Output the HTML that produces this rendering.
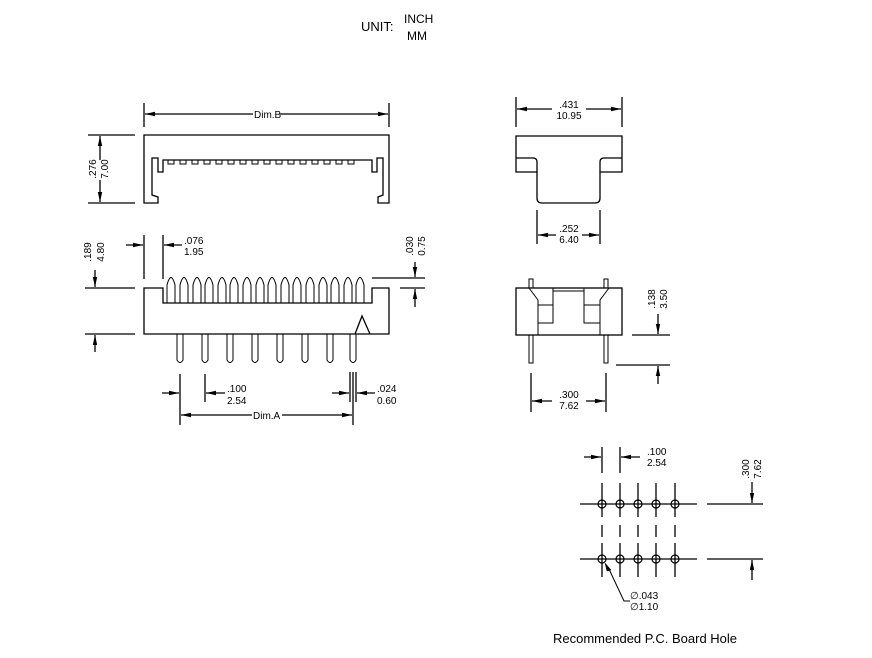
<!DOCTYPE html>
<html><head><meta charset="utf-8"><style>
html,body{margin:0;padding:0;background:#fff}
svg{display:block}
text{font-family:"Liberation Sans",Arial,sans-serif;font-size:10px;fill:#000}
</style></head><body>
<svg width="872" height="658" viewBox="0 0 872 658" xmlns="http://www.w3.org/2000/svg">
<defs>
<marker id="a" viewBox="0 0 10 6" refX="10" refY="3" markerWidth="10" markerHeight="6" markerUnits="userSpaceOnUse" orient="auto"><path d="M0,0.8 L10,3 L0,5.2 z" fill="#000"/></marker>
</defs>
<g stroke="#000" stroke-width="1.3" fill="none">
<line x1="144" y1="103" x2="144" y2="127"/><line x1="389" y1="103" x2="389" y2="127"/>
<line x1="253" y1="114" x2="145" y2="114" marker-end="url(#a)"/><line x1="280" y1="114" x2="388" y2="114" marker-end="url(#a)"/>
<path d="M144,135 H389 V203 H378 V197 L383,195 V158 H377 V172 H372 V160 H163 V172 H158 V158 H152 V195 L158,197 V203 H144 Z"/>
<path d="M165,160 h3 v4 h6 v-4 h6 v4 h6 v-4 h6 v4 h6 v-4 h6 v4 h6 v-4 h6 v4 h6 v-4 h6 v4 h6 v-4 h6 v4 h6 v-4 h6 v4 h6 v-4 h6 v4 h6 v-4 h6 v4 h6 v-4 h6 v4 h6 v-4 h6 v4 h6 v-4 h6 v4 h6 v-4 h6 v4 h6 v-4 h6 v4 h6 v-4 h6 v4 h6 v-4 h5" stroke-width="1"/>
<line x1="88" y1="135" x2="135" y2="135"/><line x1="88" y1="203" x2="135" y2="203"/>
<line x1="100" y1="160" x2="100" y2="136" marker-end="url(#a)"/><line x1="100" y1="180" x2="100" y2="202" marker-end="url(#a)"/>
<path d="M144,288 H163 V303 H372 V288 H389 V334 H144 Z"/>
<path d="M355,334 L362,316 L370,334"/>
<g stroke-width="1">
<path d="M167,303 V285 Q171,270 175,285 V303 M180,303 V285 Q184,270 188,285 V303 M193,303 V285 Q197,270 201,285 V303 M205,303 V285 Q209,270 213,285 V303 M218,303 V285 Q222,270 226,285 V303 M230,303 V285 Q234,270 238,285 V303 M243,303 V285 Q247,270 251,285 V303 M256,303 V285 Q260,270 264,285 V303 M268,303 V285 Q272,270 276,285 V303 M281,303 V285 Q285,270 289,285 V303 M293,303 V285 Q297,270 301,285 V303 M306,303 V285 Q310,270 314,285 V303 M319,303 V285 Q323,270 327,285 V303 M331,303 V285 Q335,270 339,285 V303 M344,303 V285 Q348,270 352,285 V303 M356,303 V285 Q360,270 364,285 V303"/>
<path d="M177,334 V360 Q180,365 183,360 V334 M202,334 V360 Q205,365 208,360 V334 M227,334 V360 Q230,365 233,360 V334 M252,334 V360 Q255,365 258,360 V334 M277,334 V360 Q280,365 283,360 V334 M302,334 V360 Q305,365 308,360 V334 M327,334 V360 Q330,365 333,360 V334 M350,334 V360 Q353,365 356,360 V334"/>
</g>
<line x1="144" y1="235" x2="144" y2="279"/><line x1="163" y1="235" x2="163" y2="279"/>
<line x1="126" y1="245" x2="143" y2="245" marker-end="url(#a)"/><line x1="182" y1="245" x2="164" y2="245" marker-end="url(#a)"/>
<line x1="85" y1="288" x2="135" y2="288"/><line x1="85" y1="334" x2="135" y2="334"/>
<line x1="95" y1="270" x2="95" y2="287" marker-end="url(#a)"/><line x1="95" y1="352" x2="95" y2="335" marker-end="url(#a)"/>
<line x1="372" y1="278" x2="425" y2="278"/><line x1="400" y1="288" x2="425" y2="288"/>
<line x1="415" y1="262" x2="415" y2="277" marker-end="url(#a)"/><line x1="415" y1="307" x2="415" y2="289" marker-end="url(#a)"/>
<line x1="180" y1="374" x2="180" y2="425"/><line x1="205" y1="374" x2="205" y2="402"/>
<line x1="350" y1="372" x2="350" y2="402"/><line x1="353" y1="372" x2="353" y2="425"/><line x1="356" y1="372" x2="356" y2="402"/>
<line x1="162" y1="393" x2="179" y2="393" marker-end="url(#a)"/><line x1="225" y1="393" x2="206" y2="393" marker-end="url(#a)"/>
<line x1="332" y1="393" x2="349" y2="393" marker-end="url(#a)"/><line x1="375" y1="393" x2="357" y2="393" marker-end="url(#a)"/>
<line x1="252" y1="415" x2="181" y2="415" marker-end="url(#a)"/><line x1="282" y1="415" x2="352" y2="415" marker-end="url(#a)"/>
<line x1="516" y1="97" x2="516" y2="127"/><line x1="622" y1="97" x2="622" y2="127"/>
<line x1="552" y1="109" x2="517" y2="109" marker-end="url(#a)"/><line x1="586" y1="109" x2="621" y2="109" marker-end="url(#a)"/>
<path d="M516,136 H622 V172 H600 V198 Q600,203 595,203 H542 Q537,203 537,198 V172 H516 Z"/>
<path d="M516,158 H533 Q537,158 537,162 V172 M622,158 H604 Q600,158 600,162 V172"/>
<line x1="537" y1="210" x2="537" y2="244"/><line x1="600" y1="210" x2="600" y2="244"/>
<line x1="556" y1="235" x2="538" y2="235" marker-end="url(#a)"/><line x1="582" y1="235" x2="599" y2="235" marker-end="url(#a)"/>
<rect x="516" y="288" width="106" height="47"/>
<path d="M529,288 L538,300 V335 M609,288 L600,300 V335" stroke-width="1"/>
<path d="M553,288 V305 H538 M553,305 V323 H538 M584,288 V305 H600 M584,305 V323 H600 M553,291 H584" stroke-width="1"/>
<path d="M529,288 V279 H533 V288 M604,288 V279 H608 V288 M529,335 V363 H533 V335 M604,335 V363 H608 V335" stroke-width="1"/>
<line x1="632" y1="335" x2="670" y2="335"/><line x1="616" y1="365" x2="670" y2="365"/>
<line x1="658" y1="314" x2="658" y2="334" marker-end="url(#a)"/><line x1="658" y1="384" x2="658" y2="366" marker-end="url(#a)"/>
<line x1="531" y1="373" x2="531" y2="412"/><line x1="606" y1="373" x2="606" y2="412"/>
<line x1="552" y1="401" x2="532" y2="401" marker-end="url(#a)"/><line x1="586" y1="401" x2="605" y2="401" marker-end="url(#a)"/>
<line x1="602" y1="447" x2="602" y2="473"/><line x1="620" y1="447" x2="620" y2="473"/>
<line x1="584" y1="457" x2="601" y2="457" marker-end="url(#a)"/><line x1="640" y1="457" x2="621" y2="457" marker-end="url(#a)"/>
<line x1="580" y1="504" x2="697" y2="504"/><line x1="707" y1="504" x2="763" y2="504"/>
<line x1="580" y1="559" x2="697" y2="559"/><line x1="707" y1="559" x2="763" y2="559"/>
<path d="M602,483 V517 M602,525 V537 M602,543 V577 M620,483 V517 M620,525 V537 M620,543 V577 M638,483 V517 M638,525 V537 M638,543 V577 M656,483 V517 M656,525 V537 M656,543 V577 M675,483 V517 M675,525 V537 M675,543 V577"/>
<g stroke-width="1.2"><circle cx="602" cy="504" r="4"/><circle cx="620" cy="504" r="4"/><circle cx="638" cy="504" r="4"/><circle cx="656" cy="504" r="4"/><circle cx="675" cy="504" r="4"/>
<circle cx="602" cy="559" r="4"/><circle cx="620" cy="559" r="4"/><circle cx="638" cy="559" r="4"/><circle cx="656" cy="559" r="4"/><circle cx="675" cy="559" r="4"/></g>
<line x1="752" y1="482" x2="752" y2="503" marker-end="url(#a)"/><line x1="752" y1="580" x2="752" y2="560" marker-end="url(#a)"/>
<path d="M630,601 H624 L608,567" stroke-width="1"/><path d="M605,563 L611,570 L607,571 z" fill="#000" stroke-width="0.5"/>
</g>
<text x="361" y="31" style="font-size:13px">UNIT:</text>
<text x="404" y="23" style="font-size:12px">INCH</text>
<text x="407" y="40" style="font-size:12px">MM</text>
<text x="254" y="118">Dim.B</text>
<text x="253" y="419">Dim.A</text>
<text transform="translate(96,169) rotate(-90)" text-anchor="middle">.276</text>
<text transform="translate(108,169) rotate(-90)" text-anchor="middle">7.00</text>
<text transform="translate(91,252) rotate(-90)" text-anchor="middle">.189</text>
<text transform="translate(104,252) rotate(-90)" text-anchor="middle">4.80</text>
<text transform="translate(413,246) rotate(-90)" text-anchor="middle">.030</text>
<text transform="translate(425,246) rotate(-90)" text-anchor="middle">0.75</text>
<text x="184" y="244">.076</text><text x="184" y="255">1.95</text>
<text x="227" y="392">.100</text><text x="227" y="404">2.54</text>
<text x="377" y="392">.024</text><text x="377" y="404">0.60</text>
<text x="569" y="108" text-anchor="middle">.431</text><text x="569" y="119" text-anchor="middle">10.95</text>
<text x="569" y="232" text-anchor="middle">.252</text><text x="569" y="243" text-anchor="middle">6.40</text>
<text x="569" y="398" text-anchor="middle">.300</text><text x="569" y="409" text-anchor="middle">7.62</text>
<text transform="translate(655,299) rotate(-90)" text-anchor="middle">.138</text>
<text transform="translate(667,299) rotate(-90)" text-anchor="middle">3.50</text>
<text x="647" y="455">.100</text><text x="647" y="466">2.54</text>
<text transform="translate(749,469) rotate(-90)" text-anchor="middle">.300</text>
<text transform="translate(761,469) rotate(-90)" text-anchor="middle">7.62</text>
<text x="630" y="599">∅.043</text><text x="630" y="610">∅1.10</text>
<text x="553" y="643" style="font-size:13px">Recommended P.C. Board Hole</text>
</svg>
</body></html>
